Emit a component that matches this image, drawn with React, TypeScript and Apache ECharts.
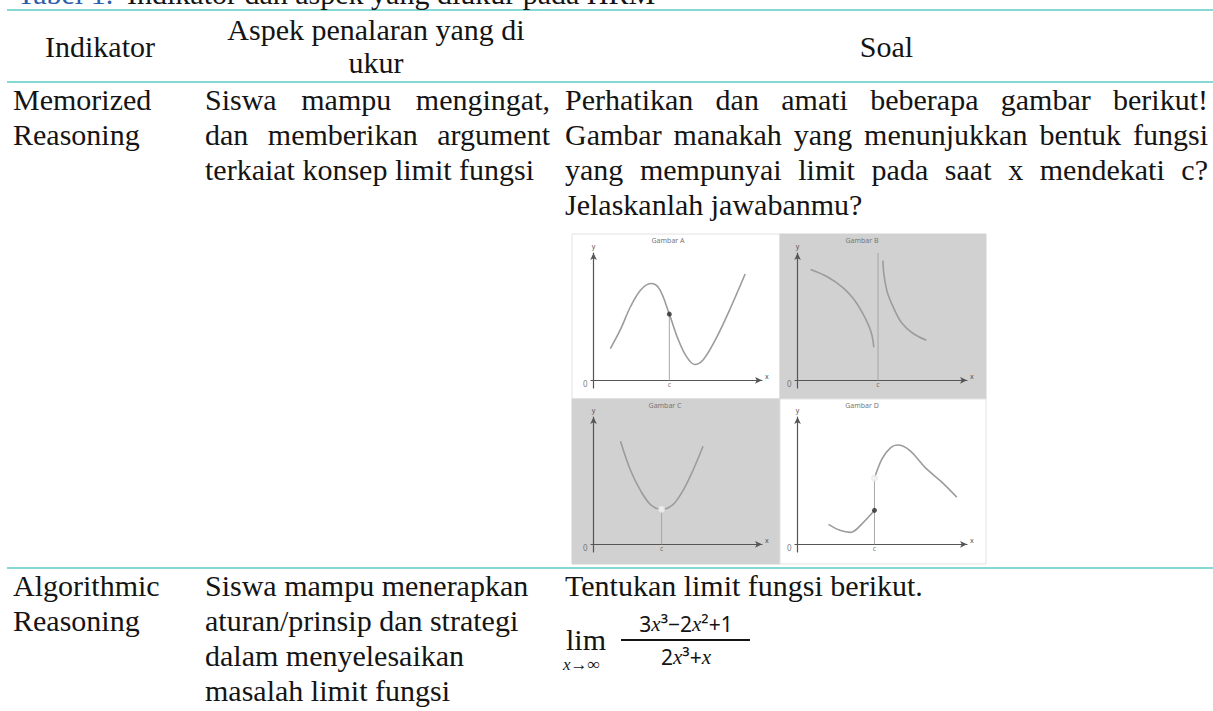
import React, { useEffect, useRef } from 'react';
import * as echarts from 'echarts';

const W = 1213;
const H = 711;
const SERIF = 'Liberation Serif, Times New Roman, serif';
const SANS = 'Noto Sans, DejaVu Sans, sans-serif';
const FS = 30;
const TEAL = '#84d9d2';
const INK = '#141414';

// ---- table text ----
const captionLabel = 'Tabel 1.';
const captionText = 'Indikator dan aspek yang diukur pada HRM';
const headerIndikator = 'Indikator';
const headerAspek = ['Aspek penalaran yang di', 'ukur'];
const headerSoal = 'Soal';
const row1Indikator = ['Memorized', 'Reasoning'];
const row1Aspek = ['Siswa mampu mengingat,', 'dan memberikan argument', 'terkaiat konsep limit fungsi'];
const row1Soal = [
  'Perhatikan dan amati beberapa gambar berikut!',
  'Gambar manakah yang menunjukkan bentuk fungsi',
  'yang mempunyai limit pada saat x mendekati c?',
  'Jelaskanlah jawabanmu?',
];
const row2Indikator = ['Algorithmic', 'Reasoning'];
const row2Aspek = ['Siswa mampu menerapkan', 'aturan/prinsip dan strategi', 'dalam menyelesaikan', 'masalah limit fungsi'];
const row2Soal = ['Tentukan limit fungsi berikut.'];
const limWord = 'lim';
const limSub = 'x→∞';
const fracNum = '{n|3}{i|x}{n|³−2}{i|x}{n|²+1}';
const fracDen = '{n|2}{i|x}{n|³+}{i|x}';

// ---- the four small graphs ----
const panelTitles = ['Gambar A', 'Gambar B', 'Gambar C', 'Gambar D'];
const curveA = [[1.0, 2.5], [1.6, 4.0], [2.2, 5.8], [2.8, 7.1], [3.4, 7.6], [3.9, 7.2], [4.5, 5.2], [5.0, 3.3], [5.5, 1.9], [6.0, 1.25], [6.5, 1.6], [7.2, 3.1], [8.0, 5.3], [9.0, 8.35]];
const cA = 4.5;
const dotA = [[4.5, 5.2]];
const curveBLeft = [[0.77, 8.7], [1.8, 8.1], [2.66, 7.3], [3.3, 6.4], [3.83, 5.3], [4.2, 4.3], [4.4, 3.5], [4.5, 2.6]];
const curveBRight = [[5.04, 9.4], [5.1, 8.3], [5.3, 6.9], [5.7, 5.6], [6.13, 4.55], [6.8, 3.7], [7.6, 3.15]];
const cB = 4.75;
const lineBTop = 10;
const curveC = [[1.6, 8.1], [2.2, 5.8], [2.8, 4.2], [3.4, 3.1], [4.04, 2.75], [4.7, 3.1], [5.3, 4.2], [5.9, 5.8], [6.5, 7.7]];
const cC = 4.04;
const openC = [[4.04, 2.75]];
const curveDLeft = [[1.83, 1.57], [2.5, 1.1], [3.13, 0.94], [3.83, 1.65], [4.54, 2.67]];
const curveDRight = [[4.54, 5.2], [5.0, 6.75], [5.5, 7.6], [5.9, 7.8], [6.6, 7.4], [7.55, 6.0], [8.5, 4.9], [9.4, 3.7]];
const cD = 4.54;
const dotD = [[4.54, 2.67]];
const openD = [[4.54, 5.2]];

const panels = [
  { x: 572, y: 234, w: 208, h: 165, bg: '#ffffff', grid: { left: 591, top: 253, width: 171, height: 135 }, tx: 668 },
  { x: 780, y: 234, w: 206, h: 165, bg: '#d1d1d1', grid: { left: 795, top: 253, width: 172, height: 135 }, tx: 862 },
  { x: 572, y: 399, w: 208, h: 165, bg: '#d1d1d1', grid: { left: 591, top: 417, width: 171, height: 135 }, tx: 665 },
  { x: 780, y: 399, w: 206, h: 165, bg: '#ffffff', grid: { left: 795, top: 417, width: 172, height: 135 }, tx: 862 },
];

let measureCtx: CanvasRenderingContext2D | null = null;
function measure(text: string, size: number, family: string) {
  if (!measureCtx) measureCtx = document.createElement('canvas').getContext('2d');
  measureCtx!.font = `${size}px ${family}`;
  return measureCtx!.measureText(text).width;
}

function txt(text: string, x: number, baseline: number, opts: any = {}) {
  const size = opts.size ?? FS;
  return {
    type: 'text',
    silent: true,
    x,
    y: baseline - 0.34 * size,
    z: 5,
    style: {
      text,
      fontSize: size,
      fontFamily: opts.family ?? SERIF,
      fontStyle: opts.italic ? 'italic' : 'normal',
      fill: opts.color ?? INK,
      align: opts.align ?? 'left',
      verticalAlign: 'middle',
      rich: opts.rich,
    },
  };
}

function justified(line: string, x0: number, x1: number, baseline: number) {
  const words = line.split(' ');
  const widths = words.map((w) => measure(w, FS, SERIF));
  const total = widths.reduce((a, b) => a + b, 0);
  const gap = words.length > 1 ? (x1 - x0 - total) / (words.length - 1) : 0;
  const out: any[] = [];
  let x = x0;
  words.forEach((w, i) => {
    out.push(txt(w, x, baseline));
    x += widths[i] + gap;
  });
  return out;
}

function paragraph(lines: string[], x0: number, x1: number, baselines: number[], justify: boolean) {
  const out: any[] = [];
  lines.forEach((l, i) => {
    if (justify && i < lines.length - 1) out.push(...justified(l, x0, x1, baselines[i]));
    else out.push(txt(l, x0, baselines[i]));
  });
  return out;
}

function buildOption() {
  const COL1 = 13;
  const COL2 = 205;
  const COL2R = 550;
  const COL3 = 565;
  const COL3R = 1208;
  const r1 = [110, 145, 180, 215];
  const r2 = [596, 631, 666, 701];

  const graphic: any[] = [];
  [10, 82, 568].forEach((y) =>
    graphic.push({ type: 'line', silent: true, shape: { x1: 7, y1: y, x2: W, y2: y }, style: { stroke: TEAL, lineWidth: 2 } })
  );
  // caption (cut off at the top, as in the source page)
  graphic.push(txt(captionLabel, 17, 4, { color: '#2b5ea8' }));
  graphic.push(txt(captionText, 127, 4));
  // header
  graphic.push(txt(headerIndikator, 100, 57, { align: 'center' }));
  graphic.push(txt(headerAspek[0], 376, 40, { align: 'center' }));
  graphic.push(txt(headerAspek[1], 376, 73, { align: 'center' }));
  graphic.push(txt(headerSoal, (COL3 + COL3R) / 2, 57, { align: 'center' }));
  // row 1
  graphic.push(...paragraph(row1Indikator, COL1, COL1, r1, false));
  graphic.push(...paragraph(row1Aspek, COL2, COL2R, r1, true));
  graphic.push(...paragraph(row1Soal, COL3, COL3R, r1, true));
  // row 2
  graphic.push(...paragraph(row2Indikator, COL1, COL1, r2, false));
  graphic.push(...paragraph(row2Aspek, COL2, COL2R, r2, false));
  graphic.push(...paragraph(row2Soal, COL3, COL3R, r2, false));
  // limit expression
  graphic.push(txt(limWord, 566, 650, { size: 30 }));
  graphic.push(txt(limSub, 563, 670, { size: 17, italic: true }));
  const fracRich = {
    n: { fontSize: 21, fontFamily: SANS, fill: INK },
    i: { fontSize: 21, fontFamily: SERIF, fontStyle: 'italic', fill: INK },
  };
  graphic.push(txt(fracNum, 686, 631, { size: 21, align: 'center', rich: fracRich, family: SANS }));
  graphic.push({ type: 'line', silent: true, shape: { x1: 621, y1: 640, x2: 750, y2: 640 }, style: { stroke: INK, lineWidth: 1.8 } });
  graphic.push(txt(fracDen, 686, 664, { size: 21, align: 'center', rich: fracRich, family: SANS }));

  // panel backgrounds and titles
  panels.forEach((p, i) => {
    graphic.push({
      type: 'rect',
      silent: true,
      z: -1,
      shape: { x: p.x, y: p.y, width: p.w, height: p.h },
      style: { fill: p.bg, stroke: p.bg === '#ffffff' ? '#e2e2e2' : p.bg, lineWidth: 1 },
    });
    graphic.push(txt(panelTitles[i], p.tx, p.y + 9, { size: 7, family: SANS, color: '#777', align: 'center' }));
  });

  const grids = panels.map((p) => ({ ...p.grid, containLabel: false }));
  const axisCol = '#555';
  const xAxes = panels.map((_, i) => ({
    gridIndex: i,
    type: 'value',
    min: -0.15,
    max: 10,
    name: 'x',
    nameGap: 3,
    nameTextStyle: { fontSize: 7, color: axisCol, fontFamily: SANS, verticalAlign: 'bottom' },
    axisLine: { onZero: true, symbol: ['none', 'arrow'], symbolSize: [5, 7], lineStyle: { color: axisCol, width: 1.2 } },
    axisTick: { show: false },
    axisLabel: { show: false },
    splitLine: { show: false },
  }));
  const yAxes = panels.map((_, i) => ({
    gridIndex: i,
    type: 'value',
    min: -0.6,
    max: 10,
    name: 'y',
    nameGap: 3,
    nameTextStyle: { fontSize: 7, color: axisCol, fontFamily: SANS },
    axisLine: { onZero: true, symbol: ['none', 'arrow'], symbolSize: [5, 7], lineStyle: { color: axisCol, width: 1.2 } },
    axisTick: { show: false },
    axisLabel: { show: false },
    splitLine: { show: false },
  }));

  const curveStyle = { color: '#9c9c9c', width: 1.6 };
  const guideStyle = { color: '#a8a8a8', width: 1 };
  const curve = (i: number, data: number[][]) => ({
    type: 'line', xAxisIndex: i, yAxisIndex: i, data, smooth: 0.35, showSymbol: false, silent: true, lineStyle: curveStyle, z: 3,
  });
  const guide = (i: number, c: number, top: number) => ({
    type: 'line', xAxisIndex: i, yAxisIndex: i, data: [[c, 0], [c, top]], showSymbol: false, silent: true, lineStyle: guideStyle, z: 2,
  });
  const dots = (i: number, data: number[][], open: boolean) => ({
    type: 'scatter', xAxisIndex: i, yAxisIndex: i, data, symbol: open ? 'emptyCircle' : 'circle', symbolSize: 5, silent: true, z: 4,
    itemStyle: open ? { color: '#e8e8e8', borderColor: '#9a9a9a', borderWidth: 1 } : { color: '#2a2a2a' },
  });
  const labels = (i: number, c: number) => ({
    type: 'scatter', xAxisIndex: i, yAxisIndex: i, symbolSize: 0, silent: true, z: 4,
    data: [
      { value: [0, 0], label: { show: true, position: 'left', formatter: '0', offset: [-1, 3], fontSize: 8, color: axisCol, fontFamily: SANS } },
      { value: [c, 0], label: { show: true, position: 'bottom', formatter: 'c', distance: 1, fontSize: 7, color: axisCol, fontFamily: SANS } },
    ],
  });

  const series: any[] = [
    guide(0, cA, dotA[0][1]), curve(0, curveA), dots(0, dotA, false), labels(0, cA),
    guide(1, cB, lineBTop), curve(1, curveBLeft), curve(1, curveBRight), labels(1, cB),
    guide(2, cC, openC[0][1]), curve(2, curveC), dots(2, openC, true), labels(2, cC),
    guide(3, cD, openD[0][1]), curve(3, curveDLeft), curve(3, curveDRight), dots(3, dotD, false), dots(3, openD, true), labels(3, cD),
  ];

  return {
    animation: false,
    backgroundColor: '#ffffff',
    grid: grids,
    xAxis: xAxes,
    yAxis: yAxes,
    series,
    graphic: { elements: graphic },
  };
}

export default function App() {
  const ref = useRef<HTMLDivElement>(null);
  useEffect(() => {
    document.body.style.margin = '0';
    if (!ref.current) return;
    const chart = echarts.init(ref.current, undefined, { renderer: 'svg', width: W, height: H });
    chart.setOption(buildOption() as any);
    return () => chart.dispose();
  }, []);
  return <div ref={ref} style={{ width: W, height: H, position: 'absolute', left: 0, top: 0 }} />;
}
